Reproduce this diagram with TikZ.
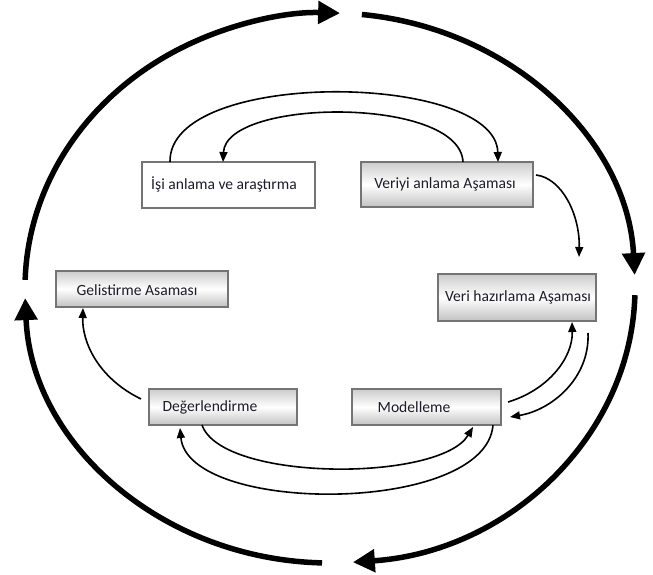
\documentclass[tikz,border=0pt]{standalone}
\usepackage{fontspec}
\setmainfont{Carlito}
\usetikzlibrary{arrows.meta}
\definecolor{boxline}{HTML}{747474}
\definecolor{txt}{HTML}{1C1C2A}
\begin{document}
\begin{tikzpicture}[x=1pt,y=1pt,
  boxshape/.style={draw=boxline, line width=1.4pt, inner sep=0pt, rectangle},
  shadedbox/.style={boxshape, top color=gray!40, bottom color=gray!48, middle color=white},
  plainbox/.style={boxshape, fill=white},
  lbl/.style={font=\fontsize{15.6}{18}\selectfont, text=txt, inner sep=0pt},
  thin/.style={line width=1.6pt, -{Triangle[length=10pt,width=8pt]}},
  thick/.style={line width=5.5pt, -{Triangle[length=22pt,width=22pt]}}]
\useasboundingbox (0,0) rectangle (653,-575);
% boxes
\node[plainbox, minimum width=173, minimum height=46] (isi) at (228.5,-185) {};
\node[shadedbox, minimum width=172, minimum height=45] (ver) at (447,-184.5) {};
\node[shadedbox, minimum width=172, minimum height=36] (gel) at (142,-289) {};
\node[shadedbox, minimum width=158, minimum height=47] (haz) at (517,-297.5) {};
\node[shadedbox, minimum width=148, minimum height=36] (deg) at (223,-407) {};
\node[shadedbox, minimum width=149, minimum height=36] (mod) at (426.5,-407) {};
% labels
\node[lbl] (isiT) at (224,-184) {İşi anlama ve araştırma};
\node[lbl] (verT) at (445,-184) {Veriyi anlama Aşaması};
\node[lbl] (gelT) at (137,-290) {Gelistirme Asaması};
\node[lbl] (hazT) at (518,-297) {Veri hazırlama Aşaması};
\node[lbl] (degT) at (210,-407) {Değerlendirme};
\node[lbl] (modT) at (414,-407) {Modelleme};
% connector end points
\coordinate (c1s) at (170,-162);
\coordinate (c1e) at (498,-162);
\coordinate (c2s) at (463,-162);
\coordinate (c2e) at (223,-162);
\coordinate (c3s) at (536,-175);
\coordinate (c3e) at (579,-257);
\coordinate (c4s) at (588,-333);
\coordinate (c4e) at (510,-417);
\coordinate (c5s) at (508,-402);
\coordinate (c5e) at (572,-322);
\coordinate (c6s) at (202,-425);
\coordinate (c6e) at (473,-427);
\coordinate (c7s) at (493,-425);
\coordinate (c7e) at (180,-428);
\coordinate (c8s) at (141,-399);
\coordinate (c8e) at (83,-308);
% thin connectors
\draw[thin] (c1s) .. controls (168,-68) and (496,-72) .. (c1e);
\draw[thin] (c2s) .. controls (460,-96) and (226,-98) .. (c2e);
\draw[thin] (c3s) .. controls (562,-178) and (580,-215) .. (c3e);
\draw[thin] (c4s) .. controls (590,-378) and (552,-410) .. (c4e);
\draw[thin] (c5s) .. controls (548,-390) and (573,-358) .. (c5e);
\draw[thin] (c6s) .. controls (222,-482) and (440,-482) .. (c6e);
\draw[thin] (c7s) .. controls (486,-515) and (188,-515) .. (c7e);
\draw[thin] (c8s) .. controls (98,-378) and (82,-342) .. (c8e);
% outer cycle
\coordinate (ctr) at (330,-288);
\draw[thick] (ctr) ++(178.3:305 and 275) arc[start angle=178.3, end angle=88.1, x radius=305, y radius=275];
\draw[thick] (ctr) ++(84:305 and 275) arc[start angle=84, end angle=2.7, x radius=305, y radius=275];
\draw[thick] (ctr) ++(-1.5:305 and 275) arc[start angle=-1.5, end angle=-85.7, x radius=305, y radius=275];
\draw[thick] (ctr) ++(-91.5:305 and 275) arc[start angle=-91.5, end angle=-177.9, x radius=305, y radius=275];
\end{tikzpicture}
\end{document}
